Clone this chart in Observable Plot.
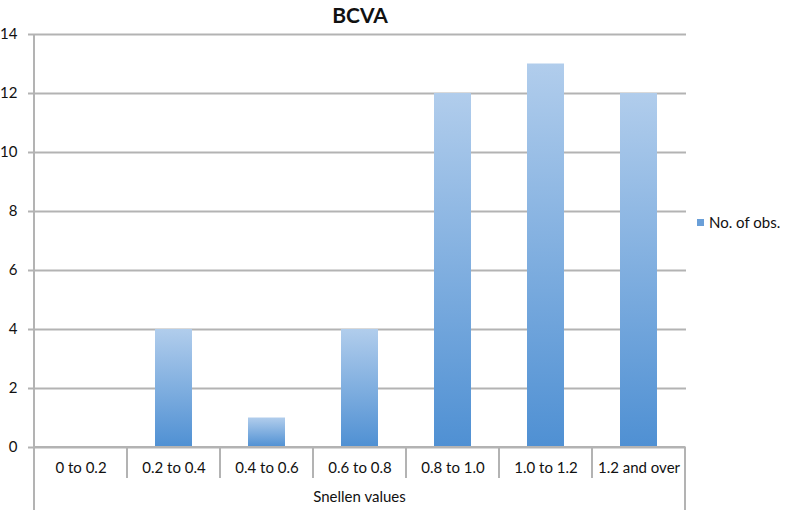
<!DOCTYPE html>
<html><head><meta charset="utf-8">
<script src="https://cdn.jsdelivr.net/npm/d3@7"></script>
<script src="https://cdn.jsdelivr.net/npm/@observablehq/plot@0.6"></script>
<style>
body{margin:0;background:#fff;font-family:Lato,"Open Sans",sans-serif;}
#wrap{position:relative;width:787px;height:513px;}
#title{position:absolute;top:0;left:0;width:720px;text-align:center;font-weight:bold;font-size:21px;color:#111;line-height:30px;}
#legend{position:absolute;left:697px;top:213px;font-size:15px;color:#111;display:flex;align-items:center;}
#legend span.sw{display:inline-block;width:7px;height:7px;background:#6a9fd8;margin-right:5px;}
</style></head>
<body><div id="wrap"><div id="title">BCVA</div><div id="legend"><span class="sw"></span>No. of obs.</div></div>
<script>
const categories = ["0 to 0.2","0.2 to 0.4","0.4 to 0.6","0.6 to 0.8","0.8 to 1.0","1.0 to 1.2","1.2 and over"];
const values = [0,4,1,4,12,13,12];
const yTicks = [0,2,4,6,8,10,12,14];
const xLabel = "Snellen values";
const seriesName = "No. of obs.";

const data = categories.map((c,i)=>({cat:c, n:values[i]}));
const NS = "http://www.w3.org/2000/svg";

function defsMark(){
  const g = document.createElementNS(NS,"g");
  g.innerHTML = `<defs><linearGradient id="barGrad" x1="0" y1="0" x2="0" y2="1">
  <stop offset="0" stop-color="#b1cdec"/><stop offset="1" stop-color="#4f90d3"/></linearGradient></defs>`;
  return g;
}
function categoryBox(index, scales, values, dims){
  const g = document.createElementNS(NS,"g");
  const x = scales.x, bw = x.bandwidth();
  const y0 = dims.height - dims.marginBottom;
  const xs = categories.map(c=>x(c));
  const xEnd = xs[xs.length-1]+bw;
  let s = "";
  xs.slice(1).forEach(v=>{ s += `<line x1="${v}" x2="${v}" y1="${y0}" y2="${y0+31}"/>`; });
  s += `<line x1="${xs[0]}" x2="${xs[0]}" y1="${dims.marginTop}" y2="${y0+63}"/>`;
  s += `<line x1="${xEnd}" x2="${xEnd}" y1="${y0}" y2="${y0+63}"/>`;
  s += `<line x1="${xs[0]}" x2="${xEnd}" y1="${y0}" y2="${y0}"/>`;
  g.setAttribute("stroke","#b3b3b3"); g.setAttribute("stroke-width","2");
  g.innerHTML = s;
  const t = document.createElementNS(NS,"text");
  t.setAttribute("x",(xs[0]+xEnd)/2); t.setAttribute("y",y0+55);
  t.setAttribute("text-anchor","middle"); t.setAttribute("font-size","15");
  t.setAttribute("fill","#111"); t.setAttribute("stroke","none");
  t.textContent = xLabel;
  g.appendChild(t);
  return g;
}

const chart = Plot.plot({
  width: 787, height: 513,
  marginLeft: 33, marginRight: 101, marginTop: 34, marginBottom: 66,
  style: {fontFamily: "Lato, 'Open Sans', sans-serif", fontSize: "15px", color:"#111", background:"transparent"},
  x: {domain: categories, padding: 0, label: null},
  y: {domain: [0,14], label: null},
  marks: [
    defsMark,
    Plot.gridY(yTicks, {stroke:"#b3b3b3", strokeOpacity:1, strokeWidth:2}),
    Plot.axisY(yTicks, {tickSize: 5, tickPadding: 11, stroke:"#b3b3b3", strokeWidth:2, fill:"#111", fontSize: 15}),
    Plot.barY(data, {x:"cat", y:"n", fill:"url(#barGrad)", insetLeft: 28, insetRight: 28}),
    categoryBox,
    Plot.axisX({tickSize: 0, tickPadding: 15, fontSize: 15, fill:"#111"})
  ]
});
chart.style.position="absolute"; chart.style.left="0"; chart.style.top="0";
document.getElementById("wrap").appendChild(chart);
document.getElementById("title").style.zIndex=2;
document.getElementById("legend").style.zIndex=2;
</script></body></html>
